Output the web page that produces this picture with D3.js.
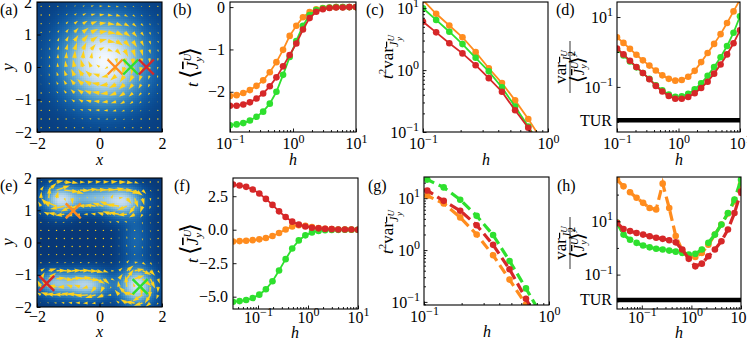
<!DOCTYPE html>
<html><head><meta charset="utf-8">
<script src="https://cdn.jsdelivr.net/npm/d3@7/dist/d3.min.js"></script>
<style>
body{margin:0;background:#fff;}
svg text{font-family:"Liberation Serif","DejaVu Serif",serif;fill:#000;}
</style></head><body>
<svg id="fig" width="747" height="339" font-family="Liberation Serif"></svg>
<script>
// ---------------- DATA ----------------
const hTop = [0.1,0.1274,0.1624,0.2069,0.2637,0.3360,0.4281,0.5456,0.6952,0.8859,1.1288,1.4384,1.8330,2.3357,2.9764,3.7927,4.8329,6.1585,7.8476,10];
const hBot = [0.03162,0.04281,0.05796,0.07848,0.1062,0.1438,0.1948,0.2637,0.3570,0.4833,0.6543,0.8859,1.1994,1.6238,2.1984,2.9764,4.0296,5.4556,7.3862,10];

// (b) t<J>
const bOrange = [-2.10,-2.08,-2.03,-1.96,-1.86,-1.73,-1.54,-1.30,-1.01,-0.68,-0.44,-0.24,-0.12,-0.05,-0.02,-0.01,0,0,0,0];
const bGreen  = [-2.79,-2.77,-2.74,-2.68,-2.59,-2.47,-2.28,-2.00,-1.60,-1.18,-0.80,-0.44,-0.19,-0.07,-0.03,-0.01,0,0,0,0];
const bRed    = [-2.33,-2.33,-2.30,-2.25,-2.16,-2.04,-1.87,-1.66,-1.40,-1.13,-0.86,-0.53,-0.26,-0.11,-0.05,-0.02,-0.01,-0.01,0,0];
// (c) t^2 var
const cOrange = [13.5,8.13,5.25,3.39,1.95,1.07,0.617,0.324,0.162,0.0759,null,null,null,null,null,null,null,null,null,null];
const cGreen  = [10.0,6.46,4.17,2.63,1.58,0.955,0.525,0.257,0.123,0.0562,null,null,null,null,null,null,null,null,null,null];
const cRed    = [6.03,4.07,2.72,1.86,1.20,0.741,0.447,0.224,0.117,0.056,null,null,null,null,null,null,null,null,null,null];
// (d) var/<J>^2
const dOrange = [2.63,1.82,1.23,0.832,0.575,0.407,0.295,0.214,0.170,0.151,0.158,0.195,0.288,0.513,0.933,1.70,3.24,6.76,14.5,31.6];
const dGreen  = [1.17,0.794,0.537,0.363,0.251,0.170,0.112,0.0794,0.0603,0.0525,0.0537,0.0631,0.0851,0.126,0.209,0.372,0.708,1.48,3.55,10.5];
const dRed    = [1.26,0.851,0.562,0.372,0.251,0.166,0.107,0.0741,0.0550,0.0457,0.0457,0.0513,0.0661,0.0933,0.141,0.240,0.437,0.851,1.78,4.17];
const turBound = 0.0112;
// (f)
const fOrange = [-0.88,-0.85,-0.82,-0.78,-0.72,-0.62,-0.47,-0.25,0.02,0.24,0.33,0.30,0.20,0.12,0.07,0.04,0.02,0.01,0.01,0];
const fGreen  = [-5.38,-5.33,-5.25,-5.10,-4.85,-4.45,-3.85,-3.05,-2.20,-1.40,-0.80,-0.42,-0.20,-0.09,-0.04,-0.02,-0.01,0,0,0];
const fRed    = [3.37,3.30,3.20,3.00,2.70,2.30,1.85,1.37,0.95,0.60,0.38,0.24,0.15,0.10,0.06,0.04,0.02,0.01,0.01,0];
// (g)
const gOrange = [null,null,null,15.8,11.2,7.94,4.27,2.00,0.794,0.269,0.0891,0.0251,null,null,null,null,null,null,null,null];
const gGreen  = [null,null,null,29.5,22.9,16.2,9.33,4.57,1.95,0.617,0.182,0.0513,null,null,null,null,null,null,null,null];
const gRed    = [null,null,null,20.0,14.1,8.91,5.75,3.02,1.26,0.427,0.115,0.0316,null,null,null,null,null,null,null,null];
// (h)
const hOrange = [363,204,123,75.9,49.0,31.6,27.5,257,31.6,2.82,0.794,0.50,0.457,0.646,1.32,3.16,7.59,19.5,56.2,240];
const hGreen  = [8.91,3.16,2.04,1.55,1.23,1.05,0.933,0.871,0.794,0.724,0.646,0.562,0.603,0.871,1.55,3.16,7.59,20.4,64.6,363];
const hRed    = [8.71,5.13,4.27,3.63,3.16,2.75,2.40,2.19,1.95,1.62,0.871,0.389,0.204,0.257,0.490,0.871,1.78,4.90,20.4,129];

// landscape blobs: [x, y, sigmaX, sigmaY, amplitude]
const blobsA = [[0.15,0.2,0.8,0.8,1.0]];
const blobsE = [[-1.25,1.35,0.35,0.28,0.9],[-0.2,1.4,0.5,0.25,0.6],[0.75,1.3,0.4,0.3,0.85],[1.15,0.1,0.3,0.6,0.18],
                [-1.45,-1.25,0.35,0.25,0.6],[-0.45,-1.3,0.5,0.27,0.85],[1.2,-1.35,0.35,0.35,1.0]];
// starting points (orange, green, red)
const crossAx = [0.5,1.0,1.5], crossAy = [0,0,0];
const crossEx = [-0.84,1.3,-1.69], crossEy = [0.98,-1.37,-1.27];

const xTicksLin = [-2,0,2], yTicksLin = [-2,-1,0,1,2];

// ---------------- STYLE ----------------
const COLORS = ['#ff8c1e','#2ee02e','#d62728'];
const FONT = 16, SUP = 12;
const svg = d3.select('#fig');
const defs = svg.append('defs');
let clipN = 0;
const minus = s => String(s).replace('-', '\u2212');

function makePanel(box){
  const g = svg.append('g');
  const id = 'clip'+(clipN++);
  defs.append('clipPath').attr('id',id).append('rect')
    .attr('x',box.x0).attr('y',box.y0).attr('width',box.x1-box.x0).attr('height',box.y1-box.y0);
  const inner = g.append('g').attr('clip-path',`url(#${id})`);
  return {g, inner, box};
}
function clean(sel){
  sel.select('.domain').remove();
  sel.attr('font-size',FONT).attr('font-family',null);
  sel.selectAll('.tick line').attr('stroke','#000').attr('stroke-width',0.9);
}
function expOf(v){ const e=Math.round(Math.log10(v)); return e<0 ? '\u2212'+(-e) : ''+e; }
function fmtTick(t, d, kind){
  t.text(null);
  if (kind==='log'){
    t.append('tspan').text('10');
    t.append('tspan').attr('dy',-6.5).attr('font-size',SUP).text(expOf(d));
  } else t.text(kind(d));
}
function axes(p, x, y, o){
  const b = p.box, g = p.g;
  if (o.xMinor) g.append('g').attr('transform',`translate(0,${b.y1})`)
     .call(d3.axisBottom(x).tickValues(o.xMinor).tickSize(-2).tickFormat('')).call(clean);
  if (o.yMinor) g.append('g').attr('transform',`translate(${b.x0},0)`)
     .call(d3.axisLeft(y).tickValues(o.yMinor).tickSize(-2).tickFormat('')).call(clean);
  const ax = g.append('g').attr('transform',`translate(0,${b.y1})`)
     .call(d3.axisBottom(x).tickValues(o.xTicks).tickSize(-3.5).tickPadding(o.xPad).tickFormat(()=>'')).call(clean);
  ax.selectAll('.tick text').each(function(d){ fmtTick(d3.select(this), d, o.xFmt); });
  const ay = g.append('g').attr('transform',`translate(${b.x0},0)`)
     .call(d3.axisLeft(y).tickValues(o.yTicks).tickSize(-3.5).tickPadding(o.yPad||5).tickFormat(()=>'')).call(clean);
  ay.selectAll('.tick text').each(function(d){ fmtTick(d3.select(this), d, o.yFmt); });
  g.append('rect').attr('x',b.x0).attr('y',b.y0).attr('width',b.x1-b.x0).attr('height',b.y1-b.y0)
    .attr('fill','none').attr('stroke','#000').attr('stroke-width',1.1);
}
function series(p, x, y, hs, vals, color, dashed){
  const pts = hs.map((h,i)=>[h, vals[i]]).filter(d=>d[1]!==null);
  p.inner.append('path').datum(pts)
    .attr('d', d3.line().x(d=>x(d[0])).y(d=>y(d[1])))
    .attr('fill','none').attr('stroke',color)
    .attr('stroke-width', dashed?3.2:1.8)
    .attr('stroke-dasharray', dashed?'10,5':null);
  p.inner.selectAll(null).data(pts).enter().append('circle')
    .attr('cx',d=>x(d[0])).attr('cy',d=>y(d[1])).attr('r',3.3).attr('fill',color);
}
function rich(parent, segs, attrs){
  const t = parent.append('text');
  Object.entries(attrs).forEach(([k,v])=>t.attr(k,v));
  let rise = 0;
  segs.forEach(s=>{
    const sp = t.append('tspan').text(s.t);
    const r = s.r||0;
    if (r!==rise){ sp.attr('dy', -(r-rise)); rise=r; }
    if (s.dx) sp.attr('dx', s.dx);
    if (s.fs) sp.attr('font-size', s.fs);
    if (s.it) sp.attr('font-style','italic');
    if (s.ol) sp.style('text-decoration','overline');
  });
  return t;
}
function tag(x,y,s){ svg.append('text').attr('x',x).attr('y',y).attr('font-size',FONT).text(s); }
function xlabel(x,y,s){ svg.append('text').attr('x',x).attr('y',y).attr('font-size',FONT).attr('font-style','italic').attr('text-anchor','middle').text(s); }
function rotG(x,y){ return svg.append('g').attr('transform',`translate(${x},${y}) rotate(-90)`); }

const labJ = [{t:'t',it:1},{t:'\u2009'},{t:'\u27E8',fs:25},{t:'J',it:1,ol:1},{t:'U',it:1,fs:11,r:7},{t:'y',it:1,fs:11,r:-4,dx:-8},{t:'\u27E9',fs:25}];
const labV = [{t:'t',it:1},{t:'2',fs:11,r:7},{t:'var'},{t:'J',it:1,fs:12,r:-5,ol:1},{t:'U',it:1,fs:9,r:-1},{t:'y',it:1,fs:9,r:-9,dx:-6}];
const numF = [{t:'var'},{t:'J',it:1,fs:12,r:-5,ol:1},{t:'U',it:1,fs:9,r:-1},{t:'y',it:1,fs:9,r:-9,dx:-6}];
const denF = [{t:'\u27E8',fs:20},{t:'J',it:1,fs:14,ol:1},{t:'U',it:1,fs:10,r:6},{t:'y',it:1,fs:10,r:-3,dx:-7},{t:'\u27E9',fs:20},{t:'2',fs:11,r:9}];
function fracLabel(x,y){
  const g = rotG(x,y);
  rich(g, numF, {x:0,y:-5,'text-anchor':'middle','font-size':FONT+1});
  g.append('line').attr('x1',-26).attr('x2',26).attr('y1',-1).attr('y2',-1).attr('stroke','#000').attr('stroke-width',0.8);
  rich(g, denF, {x:0,y:13,'text-anchor':'middle','font-size':FONT+1});
}

// ---------------- LANDSCAPE PANELS ----------------
function dens(bl, x, y){
  let v=0, gx=0, gy=0;
  bl.forEach(([bx,by,sx,sy,a])=>{
    const e = a*Math.exp(-((x-bx)**2/(2*sx*sx)+(y-by)**2/(2*sy*sy)));
    v+=e; gx += -e*(x-bx)/(sx*sx); gy += -e*(y-by)/(sy*sy);
  });
  return [v,gx,gy];
}
function landscape(box, blobs, cLo, cHi, qN, qScale, qW, cx, cy, xPad){
  const p = makePanel(box);
  const x = d3.scaleLinear().domain([-2,2]).range([box.x0,box.x1]);
  const y = d3.scaleLinear().domain([-2,2]).range([box.y1,box.y0]);
  const N = 64, cells=[];
  for (let i=0;i<N;i++) for (let j=0;j<N;j++){
    const xc=-2+(i+0.5)*4/N, yc=-2+(j+0.5)*4/N;
    cells.push({i,j,v:dens(blobs,xc,yc)[0]});
  }
  const vmax = d3.max(cells,d=>d.v);
  const col = v => d3.interpolateBlues(cLo - (cLo-cHi)*Math.pow(v/vmax,0.85));
  p.inner.selectAll(null).data(cells).enter().append('rect')
    .attr('x',d=>x(-2+d.i*4/N)).attr('y',d=>y(-2+(d.j+1)*4/N))
    .attr('width',(box.x1-box.x0)/N+0.6).attr('height',(box.y1-box.y0)/N+0.6)
    .attr('fill',d=>col(d.v)).attr('shape-rendering','crispEdges');
  const qg = p.inner.append('g');
  for (let i=0;i<qN;i++) for (let j=0;j<qN;j++){
    const xq=-2+(i+0.5)*4/qN, yq=-2+(j+0.5)*4/qN;
    const [,gx,gy] = dens(blobs,xq,yq);
    const vx = -gy, vy = gx;           // clockwise circulation along density contours
    const dx = vx*qScale, dy = -vy*qScale;
    const L = Math.hypot(dx,dy), px=x(xq), py=y(yq);
    if (L<1){ qg.append('circle').attr('cx',px).attr('cy',py).attr('r',0.7).attr('fill','#ffd21a'); continue; }
    let hw=3*qW, hl=5*qW, hal=4.5*qW, sw=qW;
    if (L<hl){ const s=L/hl; hw*=s; hl*=s; hal*=s; sw*=s; }
    const pts=[[0,-sw/2],[L-hal,-sw/2],[L-hl,-hw/2],[L,0],[L-hl,hw/2],[L-hal,sw/2],[0,sw/2]];
    qg.append('polygon').attr('points',pts.map(q=>q.join(',')).join(' '))
      .attr('transform',`translate(${px},${py}) rotate(${Math.atan2(dy,dx)*180/Math.PI})`).attr('fill','#ffd21a');
  }
  cx.forEach((xv,k)=>{
    p.inner.append('path').attr('d','M-7.5,-7.5L7.5,7.5M-7.5,7.5L7.5,-7.5')
      .attr('transform',`translate(${x(xv)},${y(cy[k])})`).attr('stroke',COLORS[k]).attr('stroke-width',2.4).attr('fill','none');
  });
  axes(p,x,y,{xTicks:xTicksLin,yTicks:yTicksLin,xFmt:minus,yFmt:minus,xPad});
}

const A = {x0:37,x1:162,y0:2,y1:132};
const E = {x0:37,x1:162,y0:178,y1:307};
landscape(A, blobsA, 0.95, 0.02, 15, 11, 1.6, crossAx, crossAy, 6);
landscape(E, blobsE, 0.97, 0.2, 16, 7, 1.4, crossEx, crossEy, 3.5);

// ---------------- CURVE PANELS ----------------
const minorTop = [0.2,0.3,0.4,0.5,0.6,0.7,0.8,0.9,2,3,4,5,6,7,8,9];
const minor01 = [0.2,0.3,0.4,0.5,0.6,0.7,0.8,0.9];
const minorBot = [0.04,0.05,0.06,0.07,0.08,0.09].concat(minorTop);
const minorYc = [0.2,0.3,0.4,0.5,0.6,0.7,0.8,0.9,2,3,4,5,6,7,8,9];
const minorYg = [0.09,0.2,0.3,0.4,0.5,0.6,0.7,0.8,0.9,2,3,4,5,6,7,8,9,20];

function curvePanel(box, xdom, ydom, ylog, hs, sets, dashed, o){
  const p = makePanel(box);
  const x = d3.scaleLog().domain(xdom).range([box.x0,box.x1]);
  const y = (ylog?d3.scaleLog():d3.scaleLinear()).domain(ydom).range([box.y1,box.y0]);
  if (o.tur!==undefined){
    p.inner.append('line').attr('x1',box.x0).attr('x2',box.x1).attr('y1',y(o.tur)).attr('y2',y(o.tur))
      .attr('stroke','#000').attr('stroke-width',4.5);
    p.g.append('text').attr('x',box.x0-5).attr('y',y(o.tur)+5.5).attr('text-anchor','end').attr('font-size',FONT).text('TUR');
  }
  sets.forEach((v,k)=>series(p,x,y,hs,v,COLORS[k],dashed));
  axes(p,x,y,o);
}

curvePanel({x0:230,x1:356,y0:2,y1:132},[0.1,10],[-2.95,0.12],false,hTop,[bOrange,bGreen,bRed],false,
  {xTicks:[0.1,1,10],xMinor:minorTop,xFmt:'log',xPad:6,yTicks:[0,-1,-2],yFmt:d=>d===0?'0':'\u2212'+(-d)});
curvePanel({x0:423,x1:548,y0:2,y1:132},[0.1,1],[0.1,Math.pow(10,1.1)],true,hTop,[cOrange,cGreen,cRed],false,
  {xTicks:[0.1,1],xMinor:minor01,xFmt:'log',xPad:6,yTicks:[0.1,1,10],yMinor:minorYc,yFmt:'log',yPad:4});
curvePanel({x0:617,x1:740,y0:2,y1:132},[0.1,10],[Math.pow(10,-2.29),Math.pow(10,1.43)],true,hTop,[dOrange,dGreen,dRed],false,
  {xTicks:[0.1,1,10],xMinor:minorTop,xFmt:'log',xPad:6,yTicks:[0.1,10],yMinor:[0.01,1],yFmt:'log',yPad:4,tur:turBound});

curvePanel({x0:233,x1:358,y0:178,y1:309},[Math.pow(10,-1.5),10],[-5.92,3.86],false,hBot,[fOrange,fGreen,fRed],false,
  {xTicks:[0.1,1,10],xMinor:minorBot,xFmt:'log',xPad:2.5,yTicks:[2.5,0,-2.5,-5],yFmt:d=>minus(d.toFixed(1))});
curvePanel({x0:424,x1:549,y0:177,y1:305},[0.1,1],[Math.pow(10,-1.06),Math.pow(10,1.41)],true,hBot,[gOrange,gGreen,gRed],true,
  {xTicks:[0.1,1],xMinor:minor01,xFmt:'log',xPad:5.5,yTicks:[0.1,1,10],yMinor:minorYg,yFmt:'log',yPad:4});
curvePanel({x0:617,x1:741,y0:177,y1:309},[Math.pow(10,-1.5),10],[Math.pow(10,-2.29),Math.pow(10,2.66)],true,hBot,[hOrange,hGreen,hRed],true,
  {xTicks:[0.1,1,10],xMinor:minorBot,xFmt:'log',xPad:2.5,yTicks:[0.1,10],yMinor:[0.01,1,100],yFmt:'log',yPad:4,tur:turBound});

// ---------------- LABELS ----------------
tag(0,15,'(a)'); tag(173,15,'(b)'); tag(366,15,'(c)'); tag(556,15,'(d)');
tag(0,191,'(e)'); tag(174,191,'(f)'); tag(368,191,'(g)'); tag(557,191,'(h)');
xlabel(99.5,165,'x'); xlabel(99.5,337,'x');
xlabel(293,165,'h'); xlabel(486,165,'h'); xlabel(679,165,'h');
xlabel(295,338,'h'); xlabel(487,337,'h'); xlabel(679,338,'h');
rotG(13,67).append('text').attr('text-anchor','middle').attr('font-size',FONT+1).attr('font-style','italic').text('y');
rotG(13,242).append('text').attr('text-anchor','middle').attr('font-size',FONT+1).attr('font-style','italic').text('y');
rich(rotG(198,67), labJ, {x:0,y:0,'text-anchor':'middle','font-size':FONT+1});
rich(rotG(198,243), labJ, {x:0,y:0,'text-anchor':'middle','font-size':FONT+1});
rich(rotG(393,57), labV, {x:0,y:0,'text-anchor':'middle','font-size':FONT+1});
rich(rotG(393,232), labV, {x:0,y:0,'text-anchor':'middle','font-size':FONT+1});
fracLabel(571,67); fracLabel(571,243);
</script></body></html>
